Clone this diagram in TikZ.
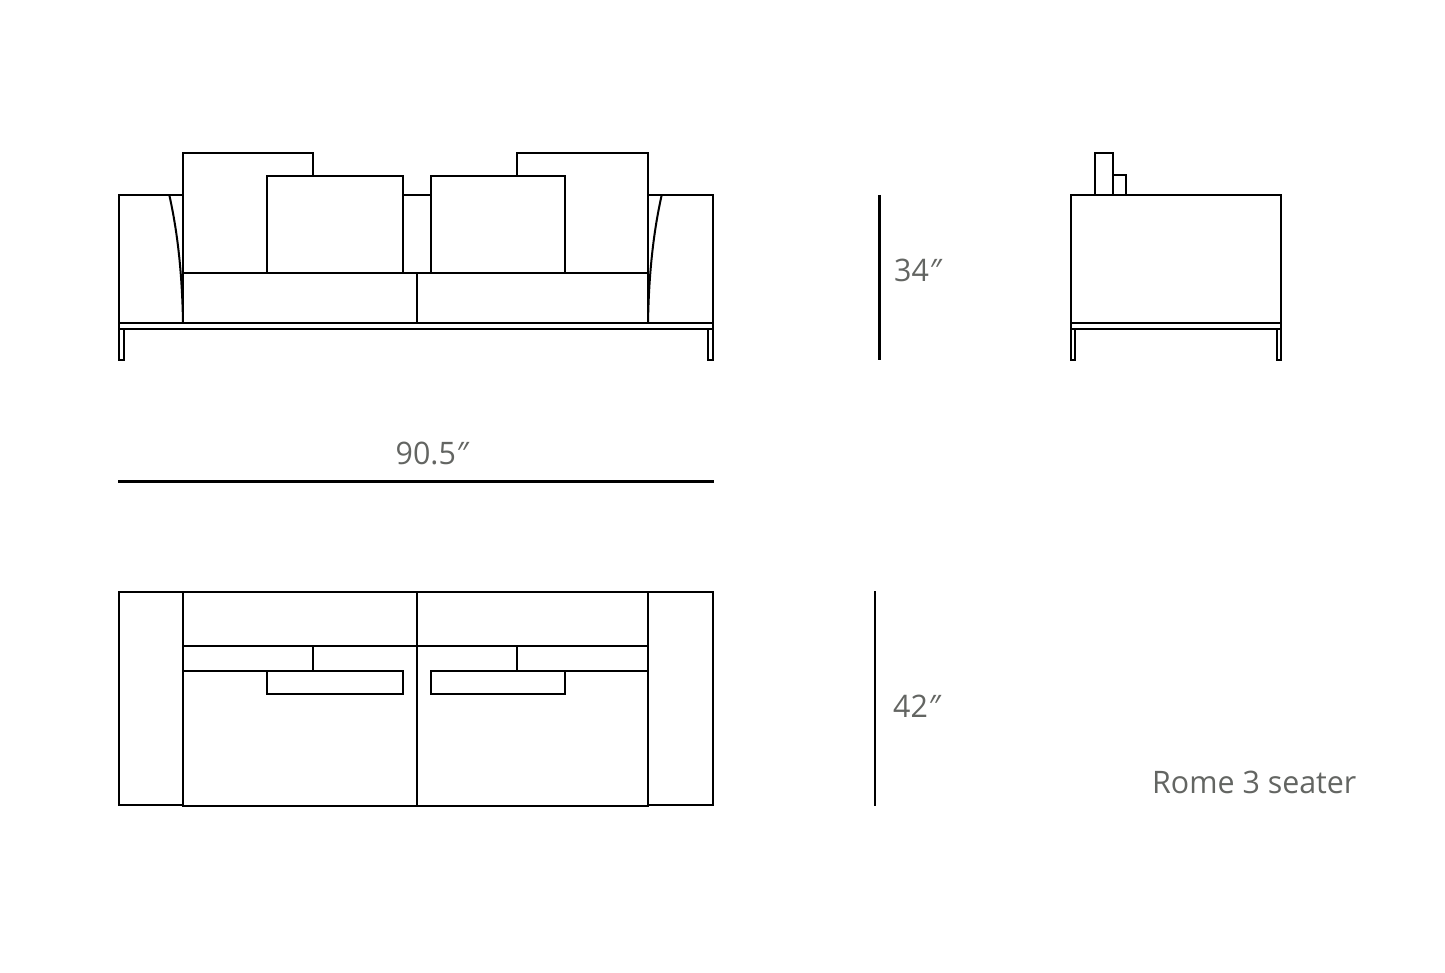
\documentclass[tikz,border=0pt]{standalone}
\usepackage{fontspec}
\setmainfont[FakeStretch=0.98]{Open Sans}
\definecolor{labelgrey}{HTML}{636562}
\newcommand{\dblprime}{{\itshape ″}}
\tikzset{
  part/.style={draw=black,line width=2pt,line join=miter,fill=white},
  seam/.style={draw=black,line width=2pt},
  dimline/.style={draw=black,line width=2.5pt},
  dimtext/.style={text=labelgrey,font=\fontsize{31}{31}\selectfont,inner sep=0pt,anchor=base west}
}
\begin{document}
\begin{tikzpicture}[x=1pt,y=-1pt]
\useasboundingbox[fill=white] (0,0) rectangle (1445,973);
% --- front elevation ---
\path[part] (119,195) rectangle (712.9,322.7);
\path[part] (119,322.7) rectangle (712.9,329.5);
\path[part] (119,329.5) rectangle (123.7,359.7);
\path[part] (708,329.5) rectangle (712.9,359.7);
\path[part] (183,153) rectangle (312.7,273.3);
\path[part] (516.5,153) rectangle (648,273.3);
\path[part] (267.3,176) rectangle (402.7,273.3);
\path[part] (431,176) rectangle (565,273.3);
\path[part] (183,273.3) rectangle (416.5,322.7);
\path[part] (416.5,273.3) rectangle (648,322.7);
\draw[seam] (169.3,195) .. controls (176,225) and (182,265) .. (183,322.7);
\draw[seam] (661.7,195) .. controls (655,225) and (649,265) .. (648,322.7);
% --- side elevation ---
\path[part] (1095.3,152.7) rectangle (1112.7,195);
\path[part] (1112.7,175) rectangle (1126,195);
\path[part] (1070.5,195) rectangle (1281.2,322.7);
\path[part] (1070.5,322.7) rectangle (1281.2,329.5);
\path[part] (1070.5,329.5) rectangle (1075.4,359.7);
\path[part] (1276.7,329.5) rectangle (1281.2,359.7);
% --- plan ---
\path[part] (119,592) rectangle (183,805);
\path[part] (648,592) rectangle (713,805);
\path[part] (183,592) rectangle (416.5,645.7);
\path[part] (416.5,592) rectangle (648,645.7);
\path[part] (183,645.7) rectangle (416.5,805.7);
\path[part] (416.5,645.7) rectangle (648,805.7);
\draw[seam] (183,670.7) -- (402.7,670.7);
\draw[seam] (431,670.7) -- (648,670.7);
\draw[seam] (312.7,645.7) -- (312.7,670.7);
\draw[seam] (516.7,645.7) -- (516.7,670.7);
\path[part] (267.3,670.7) rectangle (402.7,693.7);
\path[part] (431,670.7) rectangle (565,693.7);
% --- dimensions ---
\coordinate (hA) at (879.5,195);
\coordinate (hB) at (879.5,360.5);
\draw[dimline] (hA) -- (hB);
\coordinate (wA) at (118,481.3);
\coordinate (wB) at (714,481.3);
\draw[dimline] (wA) -- (wB);
\coordinate (dA) at (875,591);
\coordinate (dB) at (875,806);
\draw[dimline] (dA) -- (dB);
\node[dimtext] (lblH) at (894,282) {34\dblprime};
\node[dimtext] (lblW) at (395.5,464.5) {90.5\dblprime};
\node[dimtext] (lblD) at (893,717) {42\dblprime};
\node[dimtext] (lblName) at (1152,793) {Rome 3 seater};
\end{tikzpicture}
\end{document}
